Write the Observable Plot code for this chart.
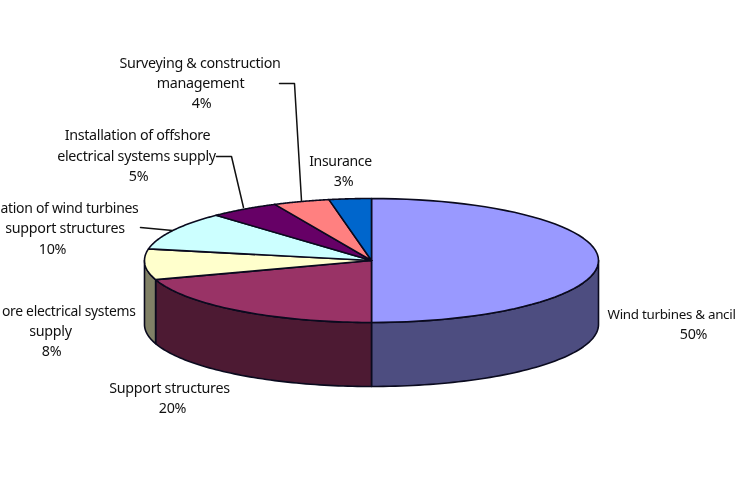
<!DOCTYPE html>
<html>
<head>
<meta charset="utf-8">
<script src="https://cdn.jsdelivr.net/npm/d3@7"></script>
<script src="https://cdn.jsdelivr.net/npm/@observablehq/plot@0.6"></script>
<style>
html,body{margin:0;padding:0;background:#fff;overflow:hidden}
svg{display:block;filter:blur(0.45px)}
</style>
</head>
<body>
<div id="chart"></div>
<script>
// Data
const categories = ["Wind turbines & ancillary","Support structures","Offshore electrical systems supply","Installation of wind turbines & support structures","Installation of offshore electrical systems supply","Surveying & construction management","Insurance"];
const shares = [50,20,8,10,5,4,3];
const topColors = ["#9999ff","#993366","#ffffcc","#ccffff","#660066","#ff8080","#0066cc"];
const sideColors = ["#4d4d80","#4d1a33","#808066","#668080","#330033","#804040","#003366"];

// Visible label lines (the reference is cropped at both edges)
const labelLines = ["Surveying & construction","management","4%","Installation of offshore","electrical systems supply","5%","ation of wind turbines","support structures","10%","ore electrical systems","supply","8%","Support structures","20%","Wind turbines & ancil","50%","Insurance","3%"];

// Layout (kept apart from the data)
const W = 741, H = 486;
const pie = {cx:371, cy:260, rx:227, ry:62, depth:64};
const labelX = [199.5,200,201,137,136,138,138,64.5,52,135,50,51,169,172,607,693,340,343];
const labelY = [63,83,103,135,156,176,208,228,249,311,331,351,388,408,314,334,161,181];
const labelAnchor = ["middle","middle","middle","middle","middle","middle","end","middle","middle","end","middle","middle","middle","middle","start","middle","middle","middle"];
const labelSize = [14.3,14.3,14.3,14.3,14.3,14.3,14,14.3,14.3,13.9,14.3,14.3,14.3,14.3,13.4,14.3,14,14.3];
const leaders = [
  {id:"survey", pts:[[279,83],[294,83],[301,200]]},
  {id:"install", pts:[[216,156],[231,156],[243,207]]},
  {id:"wind", pts:[[140,227],[172,230]]}
];

const arcs = d3.pie().sort(null).value(d => d)(shares);
const px = t => pie.cx + pie.rx * Math.sin(t);
const py = (t, dz = 0) => pie.cy - pie.ry * Math.cos(t) + dz;
const arcT = (a, b) => d3.range(0, 61).map(i => a + (b - a) * i / 60);

const tops = arcs.flatMap((a, i) => {
  const ts = arcT(a.startAngle, a.endAngle);
  const pts = [[pie.cx, pie.cy], ...ts.map(t => [px(t), py(t)]), [pie.cx, pie.cy]];
  return pts.map(([x, y]) => ({id: categories[i], x, y, color: topColors[i]}));
});

const walls = arcs.flatMap((a, i) => {
  const s = Math.max(a.startAngle, Math.PI / 2), e = Math.min(a.endAngle, 3 * Math.PI / 2);
  if (e <= s) return [];
  const ts = arcT(s, e);
  const pts = [...ts.map(t => [px(t), py(t)]), ...ts.slice().reverse().map(t => [px(t), py(t, pie.depth)]), [px(s), py(s)]];
  return pts.map(([x, y]) => ({id: categories[i], x, y, color: sideColors[i]}));
});

const leaderRows = leaders.flatMap(l => l.pts.map(([x, y]) => ({id: l.id, x, y})));
const labels = labelLines.map((text, i) => ({text, x: labelX[i], y: labelY[i], anchor: labelAnchor[i], size: labelSize[i]}));
const textMark = anchor => Plot.text(labels.filter(d => d.anchor === anchor), {
  x: "x", y: "y", text: "text", textAnchor: anchor, lineAnchor: "middle",
  fill: "#111", fontSize: d => d.size, fontFamily: "'Noto Sans', sans-serif"
});

const chart = Plot.plot({
  width: W, height: H,
  margin: 0,
  x: {domain: [0, W], range: [0, W], axis: null},
  y: {domain: [0, H], range: [0, H], axis: null},
  color: {type: "identity"},
  style: {background: "#fff", letterSpacing: "-0.3px"},
  marks: [
    Plot.line(walls, {x: "x", y: "y", z: "id", fill: "color", stroke: "#0a0a1e", strokeWidth: 1.6, strokeLinejoin: "round"}),
    Plot.line(tops, {x: "x", y: "y", z: "id", fill: "color", stroke: "#0a0a1e", strokeWidth: 1.6, strokeLinejoin: "round"}),
    Plot.line(leaderRows, {x: "x", y: "y", z: "id", stroke: "#111", strokeWidth: 1.5}),
    textMark("middle"), textMark("start"), textMark("end")
  ]
});
document.getElementById("chart").append(chart);
</script>
</body>
</html>
